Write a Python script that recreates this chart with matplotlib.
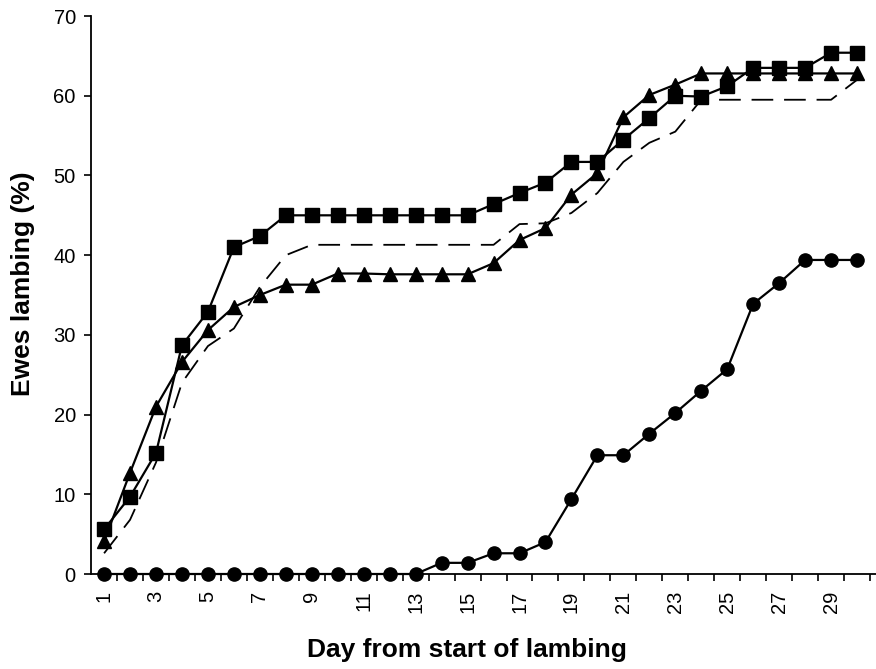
import matplotlib
matplotlib.use("Agg")
import matplotlib.pyplot as plt
from matplotlib.ticker import FixedLocator

plt.rcParams['font.family'] = ['Liberation Sans', 'DejaVu Sans']

days = list(range(1, 31))

squares = [5.6, 9.7, 15.2, 28.7, 32.9, 41.0, 42.4, 45.0, 45.0, 45.0,
           45.0, 45.0, 45.0, 45.0, 45.0, 46.4, 47.8, 49.1, 51.7, 51.7,
           54.5, 57.2, 60.0, 59.9, 61.2, 63.5, 63.5, 63.5, 65.4, 65.4]

triangles = [4.1, 12.7, 21.0, 26.6, 30.6, 33.5, 35.0, 36.3, 36.3, 37.7,
             37.7, 37.6, 37.6, 37.6, 37.6, 39.0, 41.9, 43.4, 47.6, 50.3,
             57.3, 60.1, 61.4, 62.8, 62.8, 62.8, 62.8, 62.8, 62.8, 62.8]

dashed = [2.6, 6.8, 14.0, 24.0, 28.6, 30.8, 36.0, 40.0, 41.3, 41.3,
          41.3, 41.3, 41.3, 41.3, 41.3, 41.3, 43.9, 44.0, 45.3, 47.8,
          51.7, 54.1, 55.5, 59.5, 59.5, 59.5, 59.5, 59.5, 59.5, 62.0]

circles = [0, 0, 0, 0, 0, 0, 0, 0, 0, 0,
           0, 0, 0, 1.4, 1.4, 2.6, 2.6, 4.0, 9.4, 14.9,
           14.9, 17.6, 20.2, 23.0, 25.7, 33.9, 36.5, 39.4, 39.4, 39.4]

xtick_labels = [str(d) for d in range(1, 31, 2)]
yticks = [0, 10, 20, 30, 40, 50, 60, 70]

fig = plt.figure(figsize=(8.76, 6.69), dpi=100)
ax = fig.add_axes([0.104, 0.142, 0.896, 0.834])

ax.plot(days, dashed, color='black', lw=1.3, linestyle=(0, (12, 6)))
ax.plot(days, triangles, color='black', lw=1.6, marker='^', markersize=10, clip_on=False)
ax.plot(days, squares, color='black', lw=1.6, marker='s', markersize=9.5, clip_on=False)
ax.plot(days, circles, color='black', lw=1.6, marker='o', markersize=9.5, clip_on=False, zorder=5)

ax.set_xlim(0.5, 30.73)
ax.set_ylim(0, 70)

ax.spines['top'].set_visible(False)
ax.spines['right'].set_visible(False)
ax.spines['left'].set_linewidth(1.3)
ax.spines['bottom'].set_linewidth(1.3)

ax.set_yticks(yticks)
ax.set_yticklabels([str(v) for v in yticks], fontsize=14.5)
ax.tick_params(axis='y', direction='out', length=5, width=1.2, pad=6)

ax.set_xticks(list(range(1, 31, 2)))
ax.set_xticklabels(xtick_labels, rotation=90, fontsize=14.5)
ax.xaxis.set_minor_locator(FixedLocator([d + 0.5 for d in range(1, 31)]))
ax.tick_params(axis='x', which='major', length=0, pad=12)
ax.tick_params(axis='x', which='minor', direction='out', length=5, width=1.2)

ax.set_xlabel('Day from start of lambing', fontsize=19, fontweight='bold')
ax.set_ylabel('Ewes lambing (%)', fontsize=19, fontweight='bold')
ax.xaxis.set_label_coords(0.479, -0.115)
ax.yaxis.set_label_coords(-0.072, 0.52)

fig.savefig('out.png', dpi=100)
